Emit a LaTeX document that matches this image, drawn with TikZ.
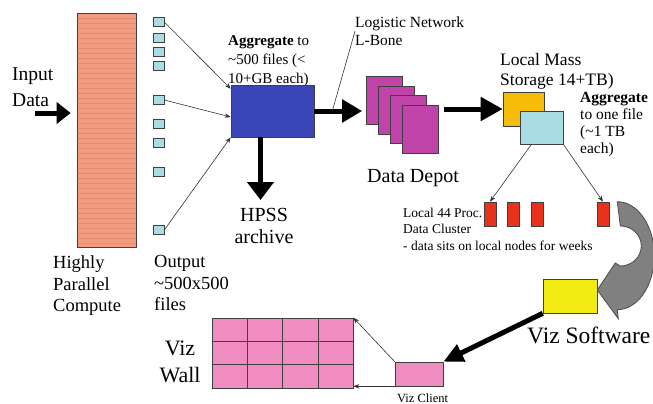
\documentclass[tikz,border=0pt]{standalone}
\usepackage{fontspec}
\setmainfont{Liberation Serif}
\usetikzlibrary{arrows.meta,positioning,calc}
\definecolor{barsalmon}{HTML}{F39B7F}
\definecolor{filecyan}{HTML}{A9DCE3}
\definecolor{aggblue}{HTML}{3A45B8}
\definecolor{depotmag}{HTML}{C043A8}
\definecolor{massgold}{HTML}{F5BD0A}
\definecolor{procred}{HTML}{E8321E}
\definecolor{turngray}{HTML}{808080}
\definecolor{vizyellow}{HTML}{F2EC12}
\definecolor{wallpink}{HTML}{F08DC0}

\begin{document}
\begin{tikzpicture}[x=1pt, y=-1pt,
  bx/.style={draw=black!75, line width=0.6pt, inner sep=0pt},
  lbl/.style={inner sep=0pt, align=left, anchor=north west},
  fat/.style={line width=5pt, -{Triangle[length=20pt,width=22pt]}},
  arr/.style={line width=0.6pt, draw=black!80, -{Stealth[length=6pt,width=4.5pt]}}]
\useasboundingbox (0,0) rectangle (653,404);
\node[lbl, font=\fontsize{19.5}{25.5}\selectfont] (inp) at (12,68) {Input\\Data};
\node[bx, fill=barsalmon, minimum width=59pt, minimum height=234pt] (bar) at (106.5,130) {};
\foreach \k in {1,...,46}
  \draw[barsalmon!75!black, line width=0.25pt, opacity=0.35] ($(bar.north west)+(0,5*\k)$) -- ($(bar.north east)+(0,5*\k)$);
\coordinate (ins) at (35,113);
\draw[fat, -{Triangle[length=14pt,width=21pt]}, shorten >=6pt] (ins) -- (ins -| bar.west);
\foreach \y [count=\i] in {22,38,52,66,100,124,143,172,230}
  \node[bx, fill=filecyan, minimum width=11pt, minimum height=9pt] (s\i) at (158.5,\y) {};
\node[lbl, font=\fontsize{18.5}{21.5}\selectfont] (hpc) at (53,255.5) {Highly\\Parallel\\Compute};
\node[lbl, font=\fontsize{18.5}{21.5}\selectfont] (outt) at (154,255.5) {Output\\\textasciitilde500x500\\files};
\node[lbl, font=\fontsize{15}{19}\selectfont] (aggt) at (228,35.5) {\textbf{Aggregate} to\\\textasciitilde500 files (<\\10+GB each)};
\node[bx, fill=aggblue, minimum width=83pt, minimum height=52pt] (agg) at (272.5,111) {};
\draw[arr] (s1.east) -- ([yshift=-4pt]agg.north west);
\draw[arr] (s5.east) -- ([yshift=-6pt]agg.west);
\draw[arr] (s9.east) -- (agg.south west);
\node[font=\fontsize{20}{22}\selectfont, align=center, inner sep=0pt, anchor=north] (hpss) at (264,208) {HPSS\\archive};
\draw[fat, -{Triangle[length=18pt,width=26pt]}, shorten >=8pt] ([xshift=-12pt]agg.south) -- ([xshift=-12pt]agg.south |- hpss.north);
\foreach \i in {0,...,3}
  \node[bx, fill=depotmag, minimum width=36pt, minimum height=48pt] (p\i) at (384.5+12*\i,100+9.8*\i) {};
\node[font=\fontsize{20}{22}\selectfont, anchor=base west, inner sep=0pt] (dd) at (367,182) {Data Depot};
\draw[fat, shorten >=4pt] (agg.east) -- (agg.east -| p0.west);
\node[lbl, font=\fontsize{15.5}{18}\selectfont] (lbn) at (355,16.5) {Logistic Network\\L-Bone};
\coordinate (lb) at ($(agg.east)+(18,0)$);
\draw[line width=0.6pt, black!80] (lb) -- (lbn.west);
\node[bx, fill=massgold, minimum width=41pt, minimum height=34pt] (ms) at (523.5,109) {};
\node[bx, fill=filecyan, minimum width=43pt, minimum height=33pt] (one) at (541.5,127.5) {};
\draw[fat, -{Triangle[length=22pt,width=23pt]}] ([xshift=5pt]p3.east |- ms.west) -- (ms.west);
\node[lbl, font=\fontsize{17.5}{20}\selectfont] (mst) at (500,53) {Local Mass\\Storage 14+TB)};
\node[lbl, font=\fontsize{15.5}{16.8}\selectfont] (onet) at (580,92.5) {\textbf{Aggregate}\\to one file\\(\textasciitilde1 TB\\each)};
\foreach \x [count=\i] in {490,513,537.5,603}
  \node[bx, fill=procred, minimum width=12pt, minimum height=24pt] (r\i) at (\x,214) {};
\draw[arr] ($(one.south west)!.27!(one.south east)$) -- (r1.north);
\draw[arr] (one.south east) -- (r4.north);
\node[lbl, font=\fontsize{13.5}{16.5}\selectfont] (clt) at (403,207.7) {Local 44 Proc.\\Data Cluster\\- data sits on local nodes for weeks};
\node[bx, fill=vizyellow, minimum width=54pt, minimum height=34pt] (viz) at (570,296) {};
\node[font=\fontsize{23.5}{26}\selectfont, anchor=base west, inner sep=0pt] (vizt) at (527,343) {Viz Software};
\coordinate (g0) at ([xshift=8pt]r4.north east);
\fill[turngray, draw=black!70, line width=0.8pt] (g0) arc[start angle=-90, end angle=90, x radius=37, y radius=54]
  -- ++(1,9) -- ([yshift=6pt]viz.east) -- ++(18,-27) -- ++(5,3)
  arc[start angle=90, end angle=-90, x radius=21, y radius=20] -- cycle;
\node[bx, fill=wallpink, minimum width=48pt, minimum height=24pt] (cli) at (419,374) {};
\node[font=\fontsize{12.5}{14}\selectfont, anchor=base west, inner sep=0pt] (clit) at (397,402) {Viz Client};
\draw[fat, -{Triangle[length=20pt,width=18pt]}] (viz.south west) -- (cli.north east);
\node[bx, fill=wallpink, minimum width=141pt, minimum height=70pt] (wall) at (282.5,353) {};
\foreach \f in {0.25,0.5,0.75}
  \draw[black!75, line width=0.6pt] ($(wall.north west)!\f!(wall.north east)$) -- ($(wall.south west)!\f!(wall.south east)$);
\foreach \f in {0.3333,0.6667}
  \draw[black!75, line width=0.6pt] ($(wall.north west)!\f!(wall.south west)$) -- ($(wall.north east)!\f!(wall.south east)$);
\draw[arr] (cli.north west) -- (wall.north east);
\draw[arr] (cli.south west) -- (cli.south west -| wall.east);
\node[font=\fontsize{22}{27}\selectfont, align=center, inner sep=0pt, anchor=north] (wallt) at (180,340.5) {Viz\\Wall};
\end{tikzpicture}
\end{document}
